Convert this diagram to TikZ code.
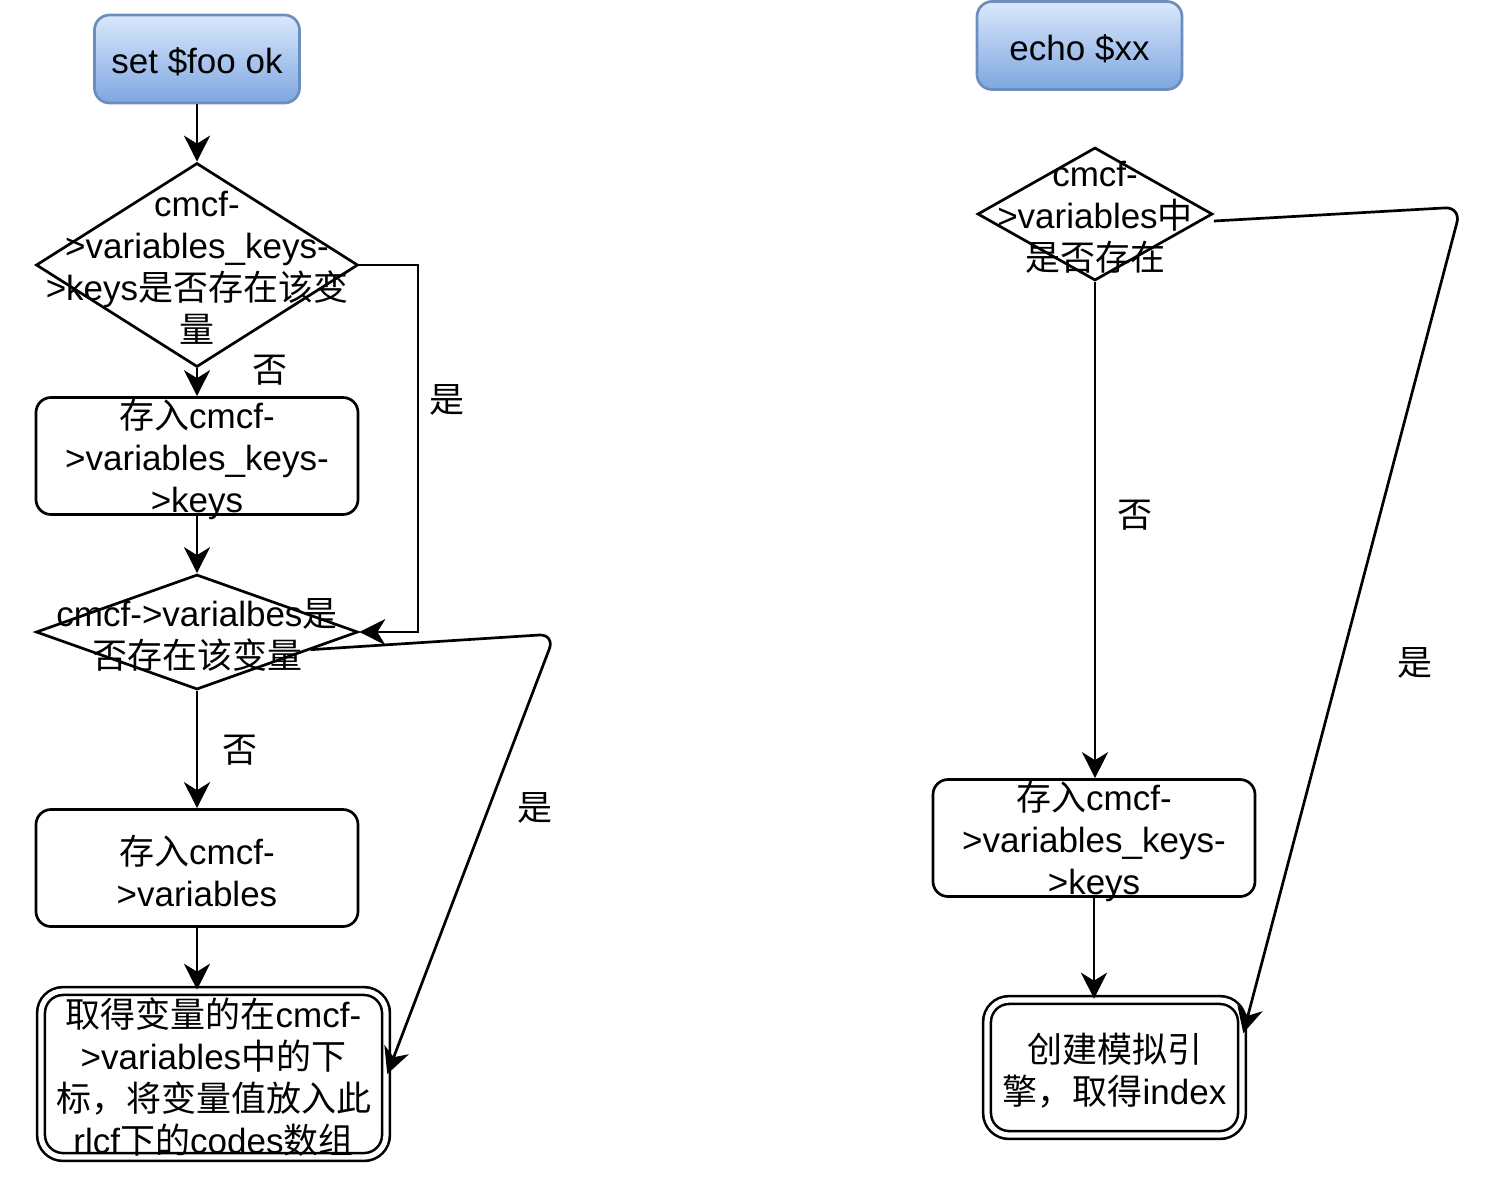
\documentclass[tikz,border=0pt]{standalone}
\usepackage{fontspec}
\setmainfont{Liberation Sans}
\newfontfamily\cjk{Noto Sans CJK SC}
\usetikzlibrary{shapes.geometric,arrows.meta,calc}

\definecolor{starttop}{HTML}{DAE8FC}
\definecolor{startbot}{HTML}{7EA6E0}
\definecolor{startline}{HTML}{6C8EBF}

\tikzset{
	base/.style={inner sep=0pt, line width=1.35pt},
	txt/.style={label={[dtext]center:{#1}}},
	startbox/.style={base, draw=startline, rounded corners=7.5pt, top color=starttop, bottom color=startbot, minimum width=102.5pt, minimum height=44pt},
	procbox/.style={base, draw, rounded corners=7.5pt, minimum width=161pt, minimum height=58.5pt},
	endbox/.style={base, draw, double, double distance=2.6pt, line width=1.3pt, rounded corners=11pt},
	decision/.style={base, draw, diamond},
	dtext/.style={font=\fontsize{17.5}{21}\selectfont, align=center, inner sep=0pt, yshift=-1.6pt},
	lbl/.style={font=\fontsize{17.5}{21}\selectfont\cjk, inner sep=0pt},
	arr/.style={-{Stealth[length=13pt,width=13pt,inset=4pt]}, line width=1.35pt}
}

\begin{document}
\begin{tikzpicture}[x=0.5pt,y=-0.5pt]
	\useasboundingbox (0,0) rectangle (1508,1180);
	
	% left flow: set
	\node[startbox, txt={set \$foo ok}] (set) at (197,59) {};
	\node[decision, minimum width=161pt, minimum height=102pt,
		txt={cmcf-\\>variables\_keys-\\>keys{\cjk 是否存在该变}\\{\cjk 量}}] (haskey) at (197,265) {};
	\node[procbox, txt={{\cjk 存入}cmcf-\\>variables\_keys-\\>keys}] (savekey) at (197,456) {};
	\node[decision, minimum width=161pt, minimum height=57.5pt,
		txt={cmcf->varialbes{\cjk 是}\\{\cjk 否存在该变量}}] (hasvar) at (197,632) {};
	\node[procbox, txt={{\cjk 存入}cmcf-\\>variables}] (savevar) at (197,868) {};
	\node[endbox, minimum width=172.5pt, minimum height=83pt,
		txt={{\cjk 取得变量的在}cmcf-\\>variables{\cjk 中的下}\\{\cjk 标，将变量值放入此}\\rlcf{\cjk 下的}codes{\cjk 数组}}] (putcode) at (213.5,1074) {};
	
	% right flow: echo
	\node[startbox, txt={echo \$xx}] (echo) at (1079.5,45.5) {};
	\node[decision, minimum width=117.5pt, minimum height=66.5pt,
		txt={cmcf-\\>variables{\cjk 中}\\{\cjk 是否存在}}] (invars) at (1095,214) {};
	\node[procbox, txt={{\cjk 存入}cmcf-\\>variables\_keys-\\>keys}] (savekey2) at (1094,838) {};
	\node[endbox, minimum width=127.5pt, minimum height=67.5pt,
		txt={{\cjk 创建模拟引}\\{\cjk 擎，取得}index}] (engine) at (1114.5,1067.5) {};
	
	\coordinate (bend1) at (418,448);
	\coordinate (bend2) at (555,634);
	\coordinate (bend3) at (1461,207);
	
	\draw[arr] (set) -- (haskey);
	\draw[arr] (haskey) -- (savekey);
	\draw[arr] (haskey.east) -| (bend1) |- (hasvar.east);
	\draw[arr] (savekey) -- (hasvar);
	\draw[arr] (hasvar) -- (savevar);
	\draw[arr] (savevar.south) -- (savevar.south |- putcode.north);
	\draw[arr,rounded corners=8pt] ($(hasvar.east)!0.3!(hasvar.south)$) -- (bend2) -- (putcode.east);
	
	\draw[arr] (invars.south) -- (invars.south |- savekey2.north);
	\draw[arr,rounded corners=8pt] ([yshift=-3.5pt]invars.east) -- (bend3) -- ($(engine.north east)!0.25!(engine.south east)$);
	\draw[arr] (savekey2.south) -- (savekey2.south |- engine.north);
	
	\node[lbl] (no1) at (270,370) {否};
	\node[lbl] (yes1) at (447,400) {是};
	\node[lbl] (no2) at (240,750) {否};
	\node[lbl] (yes2) at (535,808) {是};
	\node[lbl] (no3) at (1135,515) {否};
	\node[lbl] (yes3) at (1415,663) {是};
\end{tikzpicture}
\end{document}
